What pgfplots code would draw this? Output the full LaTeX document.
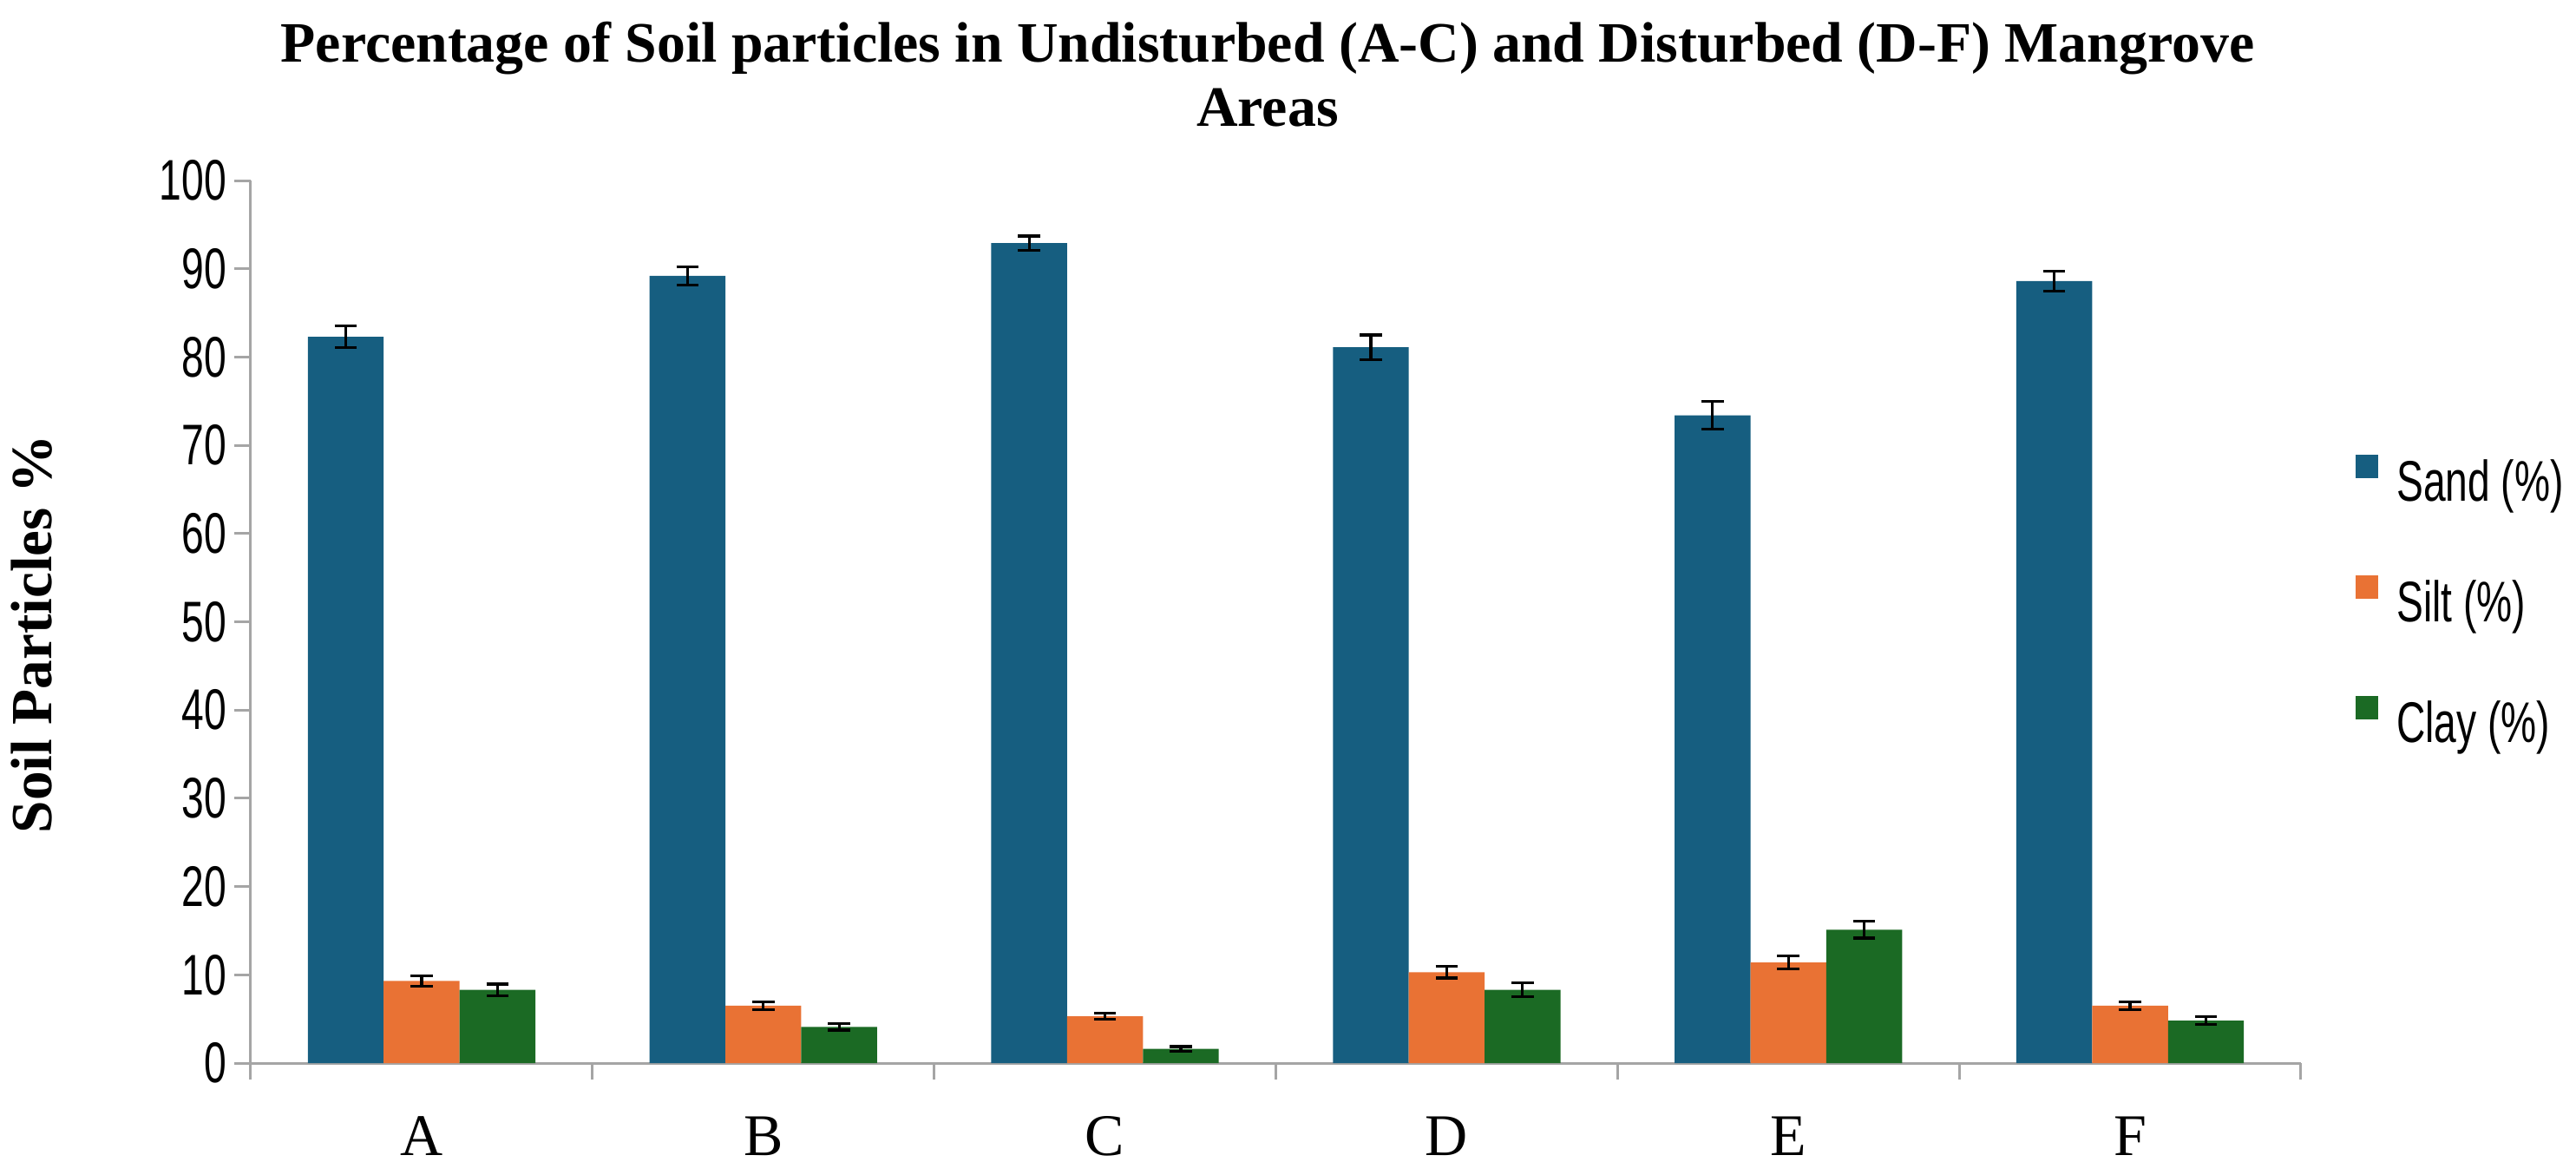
\documentclass[border=0pt]{standalone}
\usepackage{fontspec}
\setmainfont{Liberation Serif}
\newfontfamily\sansf[FakeStretch=0.70]{Liberation Sans}
\usepackage{pgfplots}
\usepackage{pgfplotstable}
\pgfplotsset{compat=1.18}

\definecolor{sandc}{RGB}{22,94,128}
\definecolor{siltc}{RGB}{233,114,52}
\definecolor{clayc}{RGB}{27,106,36}
\definecolor{axisgray}{RGB}{165,165,165}

% site, mean and error for each fraction
\pgfplotstableread{
x sand sanderr silt silterr clay clayerr
0 82.3 1.25  9.3 0.57  8.3 0.65
1 89.2 1.05  6.5 0.45  4.1 0.37
2 92.9 0.80  5.3 0.35  1.6 0.27
3 81.1 1.40 10.3 0.66  8.3 0.78
4 73.4 1.55 11.4 0.76 15.1 0.94
5 88.6 1.10  6.5 0.47  4.8 0.45
}\soil

\begin{document}
\begin{tikzpicture}
  \useasboundingbox (-72.25pt,-32pt) rectangle (670pt,306.25pt);

  \begin{axis}[
    at={(0,0)}, anchor=south west,
    scale only axis,
    width=590.75pt, height=254.25pt,
    ybar,
    bar width=0.222,
    xmin=-0.5, xmax=5.5,
    ymin=0, ymax=100,
    ytick={0,10,...,100},
    xtick={-0.5,0.5,...,5.5},
    xticklabels={,,,,,,},
    extra x ticks={0,1,2,3,4,5},
    extra x tick labels={A,B,C,D,E,F},
    extra x tick style={
      tick style={draw=none},
      xticklabel style={font=\fontsize{17}{20}\selectfont, anchor=north, inner sep=0pt, yshift=-10.4pt}
    },
    axis lines*=left,
    axis line style={draw=axisgray, line width=0.75pt},
    tick style={draw=axisgray, line width=0.75pt},
    tick align=outside,
    major tick length=4.8pt,
    /pgf/number format/assume math mode=true,
    yticklabel style={font=\sansf\fontsize{16.5}{19}\selectfont, anchor=east, inner sep=0pt, xshift=-2pt},
    ylabel={Soil Particles \%},
    every axis y label/.style={at={(rel axis cs:-0.1066,0.486)}, rotate=90, anchor=center,
      font=\bfseries\fontsize{16.8}{19}\selectfont},
    legend style={at={(rel axis cs:1.0262,0.6900)}, anchor=north west, draw=none, fill=none,
      inner sep=0pt, row sep=17.8pt, column sep=5.2pt,
      nodes={inner sep=0pt, text height=11.8pt, text depth=3.5pt, anchor=west},
      font=\sansf\fontsize{16.5}{19}\selectfont},
    legend cell align=left,
    legend image code/.code={\fill[#1] (0pt,2.6pt) rectangle (6.7pt,9.3pt);},
    error bars/y dir=both,
    error bars/y explicit,
    error bars/error bar style={black, line width=0.8pt},
    error bars/error mark options={rotate=90, black, line width=0.8pt, mark size=3.2pt},
  ]
    \addplot [fill=sandc, draw=none, bar shift=-0.222]
      table [x=x, y=sand, y error=sanderr] {\soil};
    \addplot [fill=siltc, draw=none, bar shift=0]
      table [x=x, y=silt, y error=silterr] {\soil};
    \addplot [fill=clayc, draw=none, bar shift=0.222]
      table [x=x, y=clay, y error=clayerr] {\soil};
    \legend{Sand (\%),Silt (\%),Clay (\%)}
  \end{axis}

  \node [anchor=base, font=\bfseries\fontsize{16.45}{20}\selectfont] at (293pt,288.4pt)
    {Percentage of Soil particles in Undisturbed (A-C) and Disturbed (D-F) Mangrove};
  \node [anchor=base, font=\bfseries\fontsize{16.45}{20}\selectfont] at (293pt,270pt) {Areas};
\end{tikzpicture}
\end{document}
